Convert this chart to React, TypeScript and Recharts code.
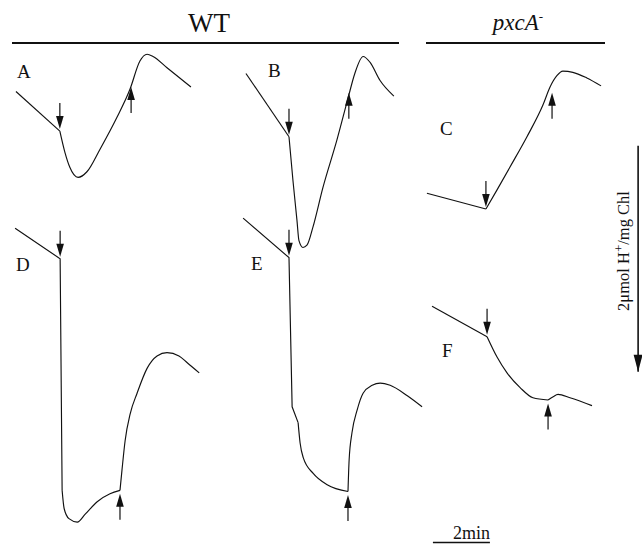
import { ComposedChart, Line, ReferenceDot, ReferenceLine, XAxis, YAxis } from 'recharts';

// proton uptake traces, [time (min), H+ (µmol/mg Chl)] relative to the start of each trace
type Pt = [number, number];

const PX_PER_MIN = 28.5;
const PX_PER_UMOL = 113;
const WIDTH = 642;
const HEIGHT = 544;

const traceA1: Pt[] = [[0, 0], [1.54, 0.35]];
const traceA2: Pt[] = [[1.54, 0.35], [1.72, 0.54], [1.89, 0.67], [2.18, 0.76], [2.49, 0.71], [2.95, 0.51], [3.54, 0.23], [4.0, -0.02], [4.35, -0.27], [4.6, -0.33], [4.81, -0.31], [5.3, -0.21], [6.14, -0.04]];

const traceB1: Pt[] = [[0, 0], [1.51, 0.56]];
const traceB2: Pt[] = [[1.51, 0.56], [1.65, 0.95], [1.79, 1.3], [1.86, 1.48], [2.0, 1.54], [2.14, 1.52], [2.35, 1.36], [2.7, 1.01], [3.19, 0.59], [3.58, 0.22], [3.82, 0], [4.11, -0.15], [4.35, -0.1], [4.7, 0.06], [5.19, 0.2]];

const traceC1: Pt[] = [[0, 0], [2.07, 0.14]];
const traceC2: Pt[] = [[2.07, 0.14], [2.46, -0.03], [2.91, -0.23], [3.51, -0.5], [4.07, -0.78], [4.32, -0.94], [4.56, -1.04], [4.77, -1.08], [5.12, -1.07], [5.61, -1.02], [6.11, -0.95]];

const traceD1: Pt[] = [[0, 0], [1.58, 0.27], [1.65, 2.32]];
const traceD2: Pt[] = [[1.65, 2.32], [1.72, 2.48], [1.89, 2.57], [2.18, 2.6], [2.46, 2.53], [2.88, 2.42], [3.33, 2.35], [3.68, 2.32]];
const traceD3: Pt[] = [[3.68, 2.32], [3.75, 2.14], [3.86, 1.88], [4.04, 1.64], [4.28, 1.46], [4.63, 1.24], [4.98, 1.13], [5.33, 1.1], [5.75, 1.13], [6.04, 1.19], [6.46, 1.28]];

const traceE1: Pt[] = [[0, 0], [1.61, 0.35], [1.72, 1.67], [1.93, 1.81]];
const traceE2: Pt[] = [[1.93, 1.81], [2.0, 1.99], [2.11, 2.12], [2.46, 2.26], [2.95, 2.36], [3.68, 2.42]];
const traceE3: Pt[] = [[3.68, 2.42], [3.72, 2.14], [3.82, 1.9], [4.0, 1.7], [4.21, 1.55], [4.53, 1.48], [4.81, 1.46], [5.16, 1.48], [5.75, 1.57], [6.28, 1.67]];

const traceF1: Pt[] = [[0, 0], [1.93, 0.27]];
const traceF2: Pt[] = [[1.93, 0.27], [2.28, 0.45], [2.63, 0.59], [3.09, 0.72], [3.54, 0.81], [4.07, 0.83]];
const traceF3: Pt[] = [[4.07, 0.83], [4.25, 0.8], [4.42, 0.78], [4.84, 0.81], [5.61, 0.88]];

// where each trace starts on the page, [min, µmol]
const origins: Record<string, Pt> = {
  A: [0.56, 0.81],
  B: [8.63, 0.65],
  C: [14.98, 1.71],
  D: [0.53, 2.02],
  E: [8.53, 1.93],
  F: [15.16, 2.71],
};

// light on (down arrow) / light off (up arrow)
const lightOn: [string, number, number][] = [['A', 1.54, 0.35], ['B', 1.51, 0.56], ['C', 2.07, 0.14], ['D', 1.58, 0.27], ['E', 1.61, 0.35], ['F', 1.93, 0.27]];
const lightOff: [string, number, number][] = [['A', 4.04, -0.04], ['B', 3.61, 0.17], ['C', 4.39, -0.89], ['D', 3.68, 2.35], ['E', 3.68, 2.45], ['F', 4.07, 0.86]];

const segments: { trace: string; pts: Pt[]; curve: 'linear' | 'monotone' }[] = [
  { trace: 'A', pts: traceA1, curve: 'linear' },
  { trace: 'A', pts: traceA2, curve: 'monotone' },
  { trace: 'B', pts: traceB1, curve: 'linear' },
  { trace: 'B', pts: traceB2, curve: 'monotone' },
  { trace: 'C', pts: traceC1, curve: 'linear' },
  { trace: 'C', pts: traceC2, curve: 'monotone' },
  { trace: 'D', pts: traceD1, curve: 'linear' },
  { trace: 'D', pts: traceD2, curve: 'monotone' },
  { trace: 'D', pts: traceD3, curve: 'monotone' },
  { trace: 'E', pts: traceE1, curve: 'linear' },
  { trace: 'E', pts: traceE2, curve: 'monotone' },
  { trace: 'E', pts: traceE3, curve: 'monotone' },
  { trace: 'F', pts: traceF1, curve: 'linear' },
  { trace: 'F', pts: traceF2, curve: 'monotone' },
  { trace: 'F', pts: traceF3, curve: 'monotone' },
];

const toPage = (trace: string, [t, h]: Pt) => ({ x: origins[trace][0] + t, y: origins[trace][1] + h });

// scale bars
const timeBar = { x: 15.19, y: 4.8, len: 2 };
const protonBar = { x: 22.39, y: 1.29, len: 2 };

const INK = '#111';
const serif = '"Liberation Serif", "DejaVu Serif", serif';

const DownArrow = (props: any) => {
  const { cx, cy } = props;
  const tip = cy - 2;
  return (
    <g>
      <line x1={cx} y1={tip - 26} x2={cx} y2={tip - 10} stroke={INK} strokeWidth={1.2} />
      <path d={`M${cx - 3.8},${tip - 13} L${cx + 3.8},${tip - 13} L${cx},${tip} Z`} fill={INK} />
    </g>
  );
};

const UpArrow = (props: any) => {
  const { cx, cy } = props;
  return (
    <g>
      <line x1={cx} y1={cy + 26} x2={cx} y2={cy + 10} stroke={INK} strokeWidth={1.2} />
      <path d={`M${cx - 3.8},${cy + 13} L${cx + 3.8},${cy + 13} L${cx},${cy} Z`} fill={INK} />
    </g>
  );
};

const ScaleHead = (props: any) => {
  const { cx, cy } = props;
  return <path d={`M${cx - 4.5},${cy - 17} L${cx + 4.5},${cy - 17} L${cx},${cy} Z`} fill={INK} />;
};

const panelLabels: [string, number, number][] = [
  ['A', 17, 78], ['B', 268, 77], ['C', 440, 135], ['D', 16, 271], ['E', 251, 270], ['F', 442, 357],
];

export default function App() {
  return (
    <div style={{ position: 'absolute', left: 0, top: 0, width: WIDTH, height: HEIGHT, background: '#fff' }}>
      <ComposedChart width={WIDTH} height={HEIGHT} margin={{ top: 0, right: 0, bottom: 0, left: 0 }}>
        <XAxis dataKey="x" type="number" hide domain={[0, WIDTH / PX_PER_MIN]} allowDataOverflow />
        <YAxis type="number" hide reversed domain={[0, HEIGHT / PX_PER_UMOL]} allowDataOverflow />
        {segments.map((s, i) => (
          <Line
            key={i}
            data={s.pts.map((p) => toPage(s.trace, p))}
            dataKey="y"
            type={s.curve}
            stroke={INK}
            strokeWidth={1.15}
            dot={false}
            activeDot={false}
            isAnimationActive={false}
          />
        ))}
        {lightOn.map(([tr, t, h]) => {
          const p = toPage(tr, [t, h]);
          return <ReferenceDot key={'on' + tr} x={p.x} y={p.y} r={0} shape={DownArrow} />;
        })}
        {lightOff.map(([tr, t, h]) => {
          const p = toPage(tr, [t, h]);
          return <ReferenceDot key={'off' + tr} x={p.x} y={p.y} r={0} shape={UpArrow} />;
        })}
        <ReferenceLine
          segment={[{ x: timeBar.x, y: timeBar.y }, { x: timeBar.x + timeBar.len, y: timeBar.y }]}
          stroke={INK}
          strokeWidth={1.5}
        />
        <ReferenceLine
          segment={[{ x: protonBar.x, y: protonBar.y }, { x: protonBar.x, y: protonBar.y + protonBar.len }]}
          stroke={INK}
          strokeWidth={1.6}
        />
        <ReferenceDot x={protonBar.x} y={protonBar.y + protonBar.len} r={0} shape={ScaleHead} />
      </ComposedChart>
      <svg width={WIDTH} height={HEIGHT} style={{ position: 'absolute', left: 0, top: 0, pointerEvents: 'none' }}>
        <g fontFamily={serif} fill={INK}>
          <text x={209} y={32} fontSize={27} textAnchor="middle">WT</text>
          <line x1={12} y1={43} x2={399} y2={43} stroke={INK} strokeWidth={2} />
          <text x={518} y={30} fontSize={23} textAnchor="middle" fontStyle="italic">
            pxcA<tspan dy={-9} fontSize={13}>-</tspan>
          </text>
          <line x1={426} y1={43} x2={605} y2={43} stroke={INK} strokeWidth={2} />
          {panelLabels.map(([l, x, y]) => (
            <text key={l} x={x} y={y} fontSize={19}>{l}</text>
          ))}
          <text x={490} y={539} fontSize={18} textAnchor="end">2min</text>
          <text x={629} y={251} fontSize={16.5} textAnchor="middle" transform="rotate(-90 629 251)">
            2μmol H<tspan dy={-6} fontSize={13}>+</tspan><tspan dy={6}>/mg Chl</tspan>
          </text>
        </g>
      </svg>
    </div>
  );
}
